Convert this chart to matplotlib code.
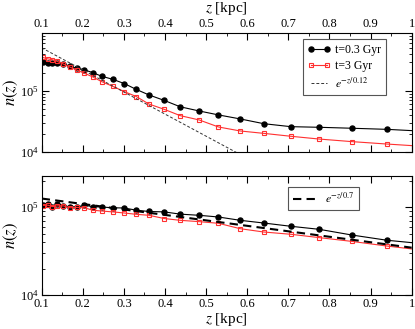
import numpy as np
import matplotlib
matplotlib.use("Agg")
from matplotlib import pyplot as plt
from matplotlib.ticker import MultipleLocator, LogLocator, NullFormatter

plt.rcParams['font.family'] = ['Liberation Serif', 'DejaVu Serif']
plt.rcParams['mathtext.fontset'] = 'stix'

# bin centres [kpc] (last one lies just past the plotted range)
z = [0.102, 0.115, 0.126, 0.138, 0.153, 0.169, 0.185, 0.204, 0.224, 0.246,
     0.273, 0.301, 0.330, 0.361, 0.398, 0.437, 0.483, 0.530, 0.583, 0.640,
     0.706, 0.775, 0.854, 0.940, 1.034]

# top panel: total density profile
top_early = [2.95e5, 2.91e5, 2.91e5, 2.91e5, 2.77e5, 2.54e5, 2.36e5, 2.21e5, 2.0e5, 1.74e5,
             1.55e5, 1.32e5, 1.06e5, 8.6e4, 7.0e4, 5.5e4, 4.7e4, 4.05e4, 3.48e4, 2.91e4,
             2.6e4, 2.54e4, 2.45e4, 2.35e4, 2.18e4]
top_late = [3.55e5, 3.35e5, 3.25e5, 3.05e5, 2.75e5, 2.45e5, 2.2e5, 1.95e5, 1.7e5, 1.42e5,
            1.19e5, 9.75e4, 8.1e4, 6.1e4, 5.0e4, 3.94e4, 3.35e4, 2.57e4, 2.21e4, 2.02e4,
            1.81e4, 1.63e4, 1.48e4, 1.35e4, 1.23e4]

# bottom panel
bot_early = [1.065e5, 1.08e5, 9.9e4, 1.09e5, 1.04e5, 1.0e5, 1.0e5, 1.045e5, 1.01e5, 1.0e5,
             9.8e4, 9.75e4, 9.2e4, 8.9e4, 8.8e4, 8.3e4, 8.05e4, 7.7e4, 7.06e4, 6.58e4,
             6.04e4, 5.58e4, 4.81e4, 4.19e4, 3.8e4]
bot_late = [1.04e5, 1.05e5, 1.01e5, 1.03e5, 1.03e5, 9.8e4, 9.9e4, 9.8e4, 9.2e4, 9.0e4,
            8.8e4, 8.55e4, 8.26e4, 8.05e4, 7.4e4, 7.06e4, 6.82e4, 6.53e4, 5.67e4, 5.2e4,
            4.9e4, 4.49e4, 4.07e4, 3.6e4, 3.2e4]

# exponential fits: amplitude and scale height [kpc]
fit_top = (1.17e6, 0.12)
fit_bot = (1.44e5, 0.7)

labels = ['t=0.3 Gyr', 't=3 Gyr']
xticks = [0.1, 0.2, 0.3, 0.4, 0.5, 0.6, 0.7, 0.8, 0.9, 1.0]
xticklabels = ['0.1', '0.2', '0.3', '0.4', '0.5', '0.6', '0.7', '0.8', '0.9', '1']
red = '#ff3030'

fig = plt.figure(figsize=(4.15, 3.29), dpi=100)
ax1 = fig.add_axes([0.1005, 0.538, 0.8915, 0.3626])
ax2 = fig.add_axes([0.1005, 0.1033, 0.8915, 0.3627])

zz = np.linspace(0.1, 1.0, 200)

def style_axis(ax, ylim):
    ax.set_yscale('log')
    ax.set_xlim(0.1, 1.0)
    ax.set_ylim(*ylim)
    ax.set_xticks(xticks)
    ax.set_xticklabels(xticklabels)
    ax.xaxis.set_minor_locator(MultipleLocator(0.05))
    ax.yaxis.set_major_locator(LogLocator(base=10))
    ax.yaxis.set_minor_locator(LogLocator(base=10, subs=np.arange(2, 10)))
    ax.yaxis.set_minor_formatter(NullFormatter())
    ax.tick_params(which='both', direction='in', top=True, right=True, labelsize=9, pad=2)
    ax.tick_params(which='major', length=5)
    ax.tick_params(which='minor', length=2.5)
    ax.set_ylabel('$n(z)$', fontsize=12, labelpad=0)
    for s in ax.spines.values():
        s.set_linewidth(0.8)

# top panel
ax1.plot(z, top_early, '-o', color='black', lw=0.8, ms=3.6, label=labels[0])
ax1.plot(z, top_late, '-s', color=red, lw=0.8, ms=3.0, mfc='none', mew=0.8, label=labels[1])
ax1.plot(zz, fit_top[0] * np.exp(-zz / fit_top[1]), '--', color='#333333', lw=0.7,
         dashes=(3, 2), label='$e^{-z/0.12}$')
style_axis(ax1, (1e4, 9e5))
ax1.tick_params(labeltop=True, labelbottom=False)
ax1.xaxis.set_label_position('top')
ax1.set_xlabel('$z$ [kpc]', fontsize=11, labelpad=4)
leg1 = ax1.legend(loc='upper right', bbox_to_anchor=(0.93, 0.945), fontsize=8.5, numpoints=2,
                  handlelength=1.9, handletextpad=0.4, borderpad=0.4, labelspacing=0.35,
                  borderaxespad=0, fancybox=False, edgecolor='#555555', framealpha=1)
leg1.get_frame().set_linewidth(0.8)

# bottom panel
ax2.plot(z, bot_early, '-o', color='black', lw=0.8, ms=3.6)
ax2.plot(z, bot_late, '-s', color=red, lw=0.8, ms=3.0, mfc='none', mew=0.8)
ax2.plot(zz, fit_bot[0] * np.exp(-zz / fit_bot[1]), '--', color='black', lw=1.5,
         dashes=(4, 2.5), label='$e^{-z/0.7}$')
style_axis(ax2, (1e4, 2.27e5))
ax2.set_xlabel('$z$ [kpc]', fontsize=11, labelpad=1)
leg2 = ax2.legend(loc='upper right', bbox_to_anchor=(0.857, 0.908), fontsize=8.5,
                  handlelength=1.9, handletextpad=0.8, borderpad=0.4, borderaxespad=0,
                  fancybox=False, edgecolor='#555555', framealpha=1)
leg2.get_frame().set_linewidth(0.8)

fig.savefig('out.png', dpi=100)
